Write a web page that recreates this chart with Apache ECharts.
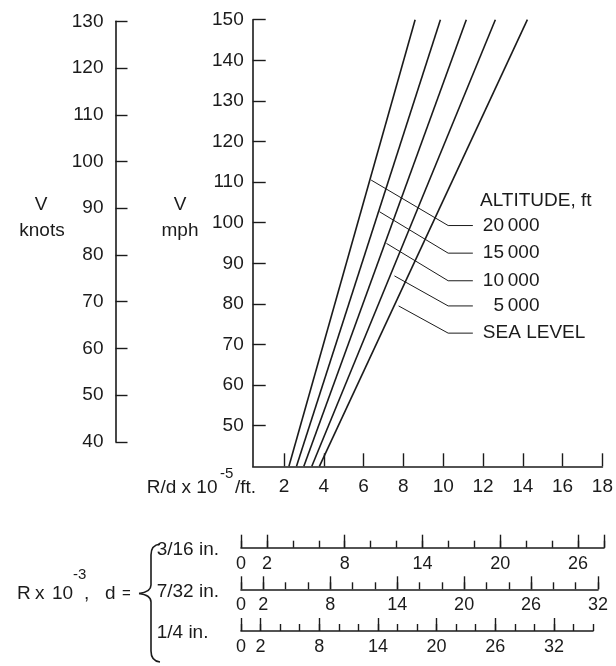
<!DOCTYPE html>
<html>
<head>
<meta charset="utf-8">
<script src="https://cdn.jsdelivr.net/npm/echarts@6/dist/echarts.min.js"></script>
<style>
  html, body { margin: 0; padding: 0; background: #fff; }
  #chart { width: 616px; height: 666px; }
</style>
</head>
<body>
<div id="chart"></div>
<script>
const FONT = '"Liberation Sans", Arial, sans-serif';
const INK = '#1b1b1b';

// Airspeed vs unit Reynolds number (R/d x 10^-5 per ft) for several altitudes
const altitudeLabels = ['20\u2009000', '15\u2009000', '10\u2009000', '\u20075\u2009000', 'SEA LEVEL'];
const speedEnds = [40, 150];
const rdAtLowSpeed = [2.25, 2.63, 3.0, 3.4, 3.78];
const rdAtHighSpeed = [8.59, 9.86, 11.16, 12.62, 14.23];

// Leader lines running from each curve out to its altitude label
const leaderStartRd = [6.38, 6.8, 7.15, 7.55, 7.76];
const leaderStartMph = [110.5, 102.7, 94.9, 86.9, 79.5];
const leaderBendRd = 10.25;
const leaderEndRd = 11.49;
const leaderLabelMph = [99.3, 92.5, 85.7, 79.5, 72.8];

// Axis ticks
const mphTicks = [50, 60, 70, 80, 90, 100, 110, 120, 130, 140, 150];
const knotTicks = [40, 50, 60, 70, 80, 90, 100, 110, 120, 130];
const rdTicks = [2, 4, 6, 8, 10, 12, 14, 16, 18];

// Reynolds number scales (R x 10^-3) for three diameters
const diameterLabels = ['3/16 in.', '7/32 in.', '1/4 in.'];
const reynoldsMax = [28, 32, 36];
const reynoldsMajorTicks = [
  [0, 2, 8, 14, 20, 26, 28],
  [0, 2, 8, 14, 20, 26, 32],
  [0, 2, 8, 14, 20, 26, 32]
];
const reynoldsTickLabels = [
  [0, 2, 8, 14, 20, 26],
  [0, 2, 8, 14, 20, 26, 32],
  [0, 2, 8, 14, 20, 26, 32]
];

// ---- layout ----
const MAIN = { left: 252.7, top: 19.7, width: 353, height: 446.6 };
const RD_MIN = 0.43, RD_MAX = 18;
const MPH_MIN = 40, MPH_MAX = 150;
const MPH_PER_KNOT = 1.15078;
const mphY = v => MAIN.top + (MPH_MAX - v) / (MPH_MAX - MPH_MIN) * MAIN.height;
const knotTop = mphY(knotTicks[knotTicks.length - 1] * MPH_PER_KNOT);
const knotBottom = mphY(knotTicks[0] * MPH_PER_KNOT);

const SCALE_LEFT = 241;
const scaleLineY = [547.7, 589.3, 631];
const scaleWidth = [363, 357, 352];

const textStyle = { fontFamily: FONT, fontSize: 19, color: INK };
const axisLine = { show: true, lineStyle: { color: INK, width: 1.6 } };
const tickStyle = { color: INK, width: 1.4 };

const grids = [
  { left: MAIN.left, top: MAIN.top, width: MAIN.width, height: MAIN.height },
  { left: 115.5, top: knotTop, width: 10, height: knotBottom - knotTop }
];
scaleLineY.forEach((y, i) => {
  grids.push({ left: SCALE_LEFT, top: y - 20, width: scaleWidth[i], height: 20 });
});

const xAxes = [
  {
    gridIndex: 0, type: 'value', min: RD_MIN, max: RD_MAX,
    axisLine: axisLine,
    axisTick: { show: true, inside: true, length: 13, customValues: rdTicks, lineStyle: tickStyle },
    axisLabel: { show: true, customValues: rdTicks, margin: 11, ...textStyle },
    splitLine: { show: false }
  },
  { gridIndex: 1, type: 'value', show: false, min: 0, max: 1 }
];
const yAxes = [
  {
    gridIndex: 0, type: 'value', min: MPH_MIN, max: MPH_MAX,
    axisLine: axisLine,
    axisTick: { show: true, inside: true, length: 13, customValues: mphTicks, lineStyle: tickStyle },
    axisLabel: { show: true, customValues: mphTicks, margin: 9, ...textStyle },
    splitLine: { show: false }
  },
  {
    gridIndex: 1, type: 'value', min: 40, max: 130, interval: 10,
    axisLine: axisLine,
    axisTick: { show: true, inside: true, length: 12, lineStyle: tickStyle },
    axisLabel: { show: true, margin: 12, ...textStyle },
    splitLine: { show: false }
  }
];

reynoldsMax.forEach((max, i) => {
  const g = i + 2;
  xAxes.push({
    gridIndex: g, type: 'value', position: 'bottom', min: 0, max: max,
    axisLine: axisLine,
    axisTick: { show: true, inside: true, length: 13, customValues: reynoldsMajorTicks[i], lineStyle: tickStyle },
    axisLabel: { show: true, customValues: reynoldsTickLabels[i], margin: 7, ...textStyle, fontSize: 18 },
    splitLine: { show: false }
  });
  xAxes.push({
    gridIndex: g, type: 'value', position: 'bottom', min: 0, max: max, interval: 2,
    axisLine: { show: false },
    axisTick: { show: true, inside: true, length: 7, lineStyle: tickStyle },
    axisLabel: { show: false },
    splitLine: { show: false }
  });
  yAxes.push({ gridIndex: g, type: 'value', show: false, min: 0, max: 1 });
});

const series = [];
altitudeLabels.forEach((name, i) => {
  series.push({
    type: 'line', xAxisIndex: 0, yAxisIndex: 0, symbol: 'none', silent: true,
    data: [[rdAtLowSpeed[i], speedEnds[0]], [rdAtHighSpeed[i], speedEnds[1]]],
    lineStyle: { color: INK, width: 1.6 }
  });
  series.push({
    type: 'line', xAxisIndex: 0, yAxisIndex: 0, symbol: 'none', silent: true,
    data: [
      [leaderStartRd[i], leaderStartMph[i]],
      [leaderBendRd, leaderLabelMph[i]],
      [leaderEndRd, leaderLabelMph[i]]
    ],
    lineStyle: { color: INK, width: 1 },
    endLabel: { show: true, formatter: name, distance: 10, ...textStyle }
  });
});

const txt = (x, y, text, extra) => ({
  type: 'text', x: x, y: y, silent: true,
  style: Object.assign({ text: text, font: '19px ' + FONT, fill: INK,
    textAlign: 'left', textVerticalAlign: 'middle' }, extra || {})
});
const curve = (x1, y1, cx, cy, x2, y2) => ({
  type: 'bezierCurve', silent: true,
  shape: { x1: x1, y1: y1, cpx1: cx, cpy1: cy, x2: x2, y2: y2 },
  style: { fill: null, stroke: INK, lineWidth: 1.6 }
});
const seg = (x1, y1, x2, y2) => ({
  type: 'line', silent: true,
  shape: { x1: x1, y1: y1, x2: x2, y2: y2 },
  style: { stroke: INK, lineWidth: 1.6 }
});

const graphics = [
  txt(41, 205, 'V', { textAlign: 'center' }),
  txt(42, 231, 'knots', { textAlign: 'center' }),
  txt(180, 205, 'V', { textAlign: 'center' }),
  txt(180, 231, 'mph', { textAlign: 'center' }),
  txt(480, 201, 'ALTITUDE, ft'),
  // R/d axis title
  txt(146.7, 488, 'R/d x 10'),
  txt(220, 474, '-5', { font: '15px ' + FONT }),
  txt(235, 488, '/ft.'),
  // Reynolds number scale title
  txt(17, 593.5, 'R'),
  txt(35, 593.5, 'x'),
  txt(52, 593.5, '10'),
  txt(73, 575, '-3', { font: '15px ' + FONT }),
  txt(84, 593.5, ','),
  txt(105, 593.5, 'd'),
  txt(122, 593.5, '=', { font: '15px ' + FONT }),
  // brace grouping the three diameter scales
  curve(160, 544, 151, 545, 151, 555),
  seg(151, 555, 151, 585),
  curve(151, 585, 151, 592, 139, 593.5),
  curve(139, 593.5, 151, 595, 151, 602),
  seg(151, 602, 151, 651),
  curve(151, 651, 151, 661, 160, 662)
];
diameterLabels.forEach((d, i) => {
  graphics.push(txt(156.7, scaleLineY[i] + 2, d));
});

const chart = echarts.init(document.getElementById('chart'), null, { renderer: 'canvas' });
chart.setOption({
  backgroundColor: '#ffffff',
  animation: false,
  grid: grids,
  xAxis: xAxes,
  yAxis: yAxes,
  series: series,
  graphic: graphics
});
</script>
</body>
</html>
